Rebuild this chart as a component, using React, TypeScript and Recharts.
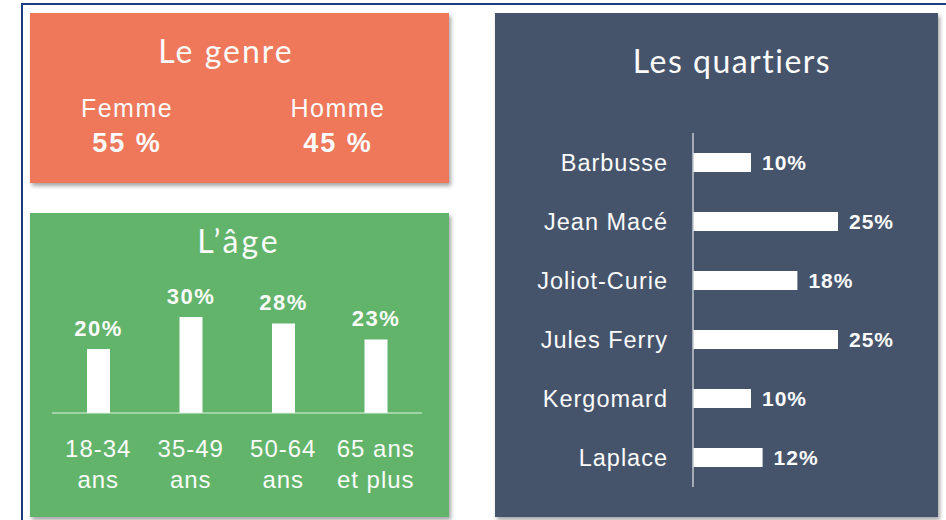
import { Bar, BarChart, LabelList, XAxis, YAxis } from 'recharts';

const genderLabels = ['Femme', 'Homme'];
const genderShares = [55, 45];

const ageGroups = ['18-34 ans', '35-49 ans', '50-64 ans', '65 ans et plus'];
const ageTickLines = [
  ['18-34', 'ans'],
  ['35-49', 'ans'],
  ['50-64', 'ans'],
  ['65 ans', 'et plus'],
];
const ageShares = [20, 30, 28, 23];

const districts = ['Barbusse', 'Jean Macé', 'Joliot-Curie', 'Jules Ferry', 'Kergomard', 'Laplace'];
const districtShares = [10, 25, 18, 25, 10, 12];

const ageData = ageGroups.map((group, i) => ({ group, share: ageShares[i] }));
const districtData = districts.map((name, i) => ({ name, share: districtShares[i] }));

const WHITE = '#fbfbfb';
const BODY_FONT = '"Liberation Sans", Arial, sans-serif';
const TITLE_FONT = 'Lato, "Noto Sans", sans-serif';
const shadow = '2px 3px 4px rgba(0,0,0,0.35)';

const panel = (left: number, top: number, width: number, height: number, background: string) => ({
  position: 'absolute' as const,
  left,
  top,
  width,
  height,
  background,
  boxShadow: shadow,
});

const AgeTick = (props: any) => {
  const { x, y, payload } = props;
  const lines = ageTickLines[ageGroups.indexOf(payload.value)] || [payload.value, ''];
  return (
    <text x={x} y={y} textAnchor="middle" fill={WHITE} fontSize={24} letterSpacing={1} fontFamily={BODY_FONT}>
      <tspan x={x} dy={42}>{lines[0]}</tspan>
      <tspan x={x} dy={31}>{lines[1]}</tspan>
    </text>
  );
};

export default function App() {
  return (
    <div style={{ position: 'absolute', left: 0, top: 0, width: 946, height: 520, overflow: 'hidden', background: '#fff' }}>
      <div
        style={{
          position: 'absolute',
          left: 21,
          top: 3,
          width: 960,
          height: 560,
          borderLeft: '2px solid #1b3c80',
          borderTop: '2px solid #1b3c80',
        }}
      />

      <div style={panel(30, 13, 419, 170, '#ef775a')} />
      <div style={panel(30, 213, 419, 304, '#61b46a')}>
        <BarChart width={419} height={304} data={ageData} margin={{ top: 72, right: 27, bottom: 0, left: 22 }}>
          <XAxis
            dataKey="group"
            height={104}
            interval={0}
            tickLine={false}
            tickSize={0}
            axisLine={{ stroke: '#e4f1e4', strokeWidth: 1 }}
            tick={<AgeTick />}
          />
          <YAxis type="number" domain={[0, 40]} hide />
          <Bar dataKey="share" fill="#ffffff" barSize={23} isAnimationActive={false}>
            <LabelList
              dataKey="share"
              position="top"
              offset={13}
              fill={WHITE}
              fontSize={22}
              fontWeight={600}
              letterSpacing={1.5}
              fontFamily={BODY_FONT}
              formatter={(v: any) => `${v}%`}
            />
          </Bar>
        </BarChart>
      </div>

      <div style={panel(495, 13, 443, 504, '#45546b')}>
        <BarChart
          width={443}
          height={504}
          data={districtData}
          layout="vertical"
          margin={{ top: 120, right: 13, bottom: 30, left: 0 }}
        >
          <XAxis type="number" domain={[0, 40]} hide />
          <YAxis
            type="category"
            dataKey="name"
            width={198}
            tickSize={0}
            tickMargin={25}
            tickLine={false}
            axisLine={{ stroke: '#c3c8d0', strokeWidth: 1.5 }}
            tick={{ fill: WHITE, fontSize: 23.5, letterSpacing: 1, fontFamily: BODY_FONT }}
          />
          <Bar dataKey="share" fill="#ffffff" barSize={19} isAnimationActive={false}>
            <LabelList
              dataKey="share"
              position="right"
              offset={11}
              fill={WHITE}
              fontSize={21}
              fontWeight={600}
              letterSpacing={1}
              fontFamily={BODY_FONT}
              formatter={(v: any) => `${v}%`}
            />
          </Bar>
        </BarChart>
      </div>

      <svg
        width={946}
        height={520}
        style={{ position: 'absolute', left: 0, top: 0, pointerEvents: 'none' }}
      >
        <text x={226} y={63} textAnchor="middle" fill={WHITE} fontSize={32} letterSpacing={2} fontFamily={TITLE_FONT}>
          Le genre
        </text>
        {genderLabels.map((label, i) => (
          <g key={label}>
            <text
              x={i === 0 ? 127 : 338}
              y={117}
              textAnchor="middle"
              fill={WHITE}
              fontSize={25}
              letterSpacing={1.5}
              fontFamily={BODY_FONT}
            >
              {label}
            </text>
            <text
              x={i === 0 ? 127 : 338}
              y={152}
              textAnchor="middle"
              fill={WHITE}
              fontSize={27}
              fontWeight={700}
              letterSpacing={2}
              fontFamily={BODY_FONT}
            >
              {`${genderShares[i]} %`}
            </text>
          </g>
        ))}
        <text x={239} y={253} textAnchor="middle" fill={WHITE} fontSize={32} letterSpacing={3} fontFamily={TITLE_FONT}>
          L’âge
        </text>
        <text x={732} y={73} textAnchor="middle" fill={WHITE} fontSize={32} letterSpacing={1.5} fontFamily={TITLE_FONT}>
          Les quartiers
        </text>
      </svg>
    </div>
  );
}
